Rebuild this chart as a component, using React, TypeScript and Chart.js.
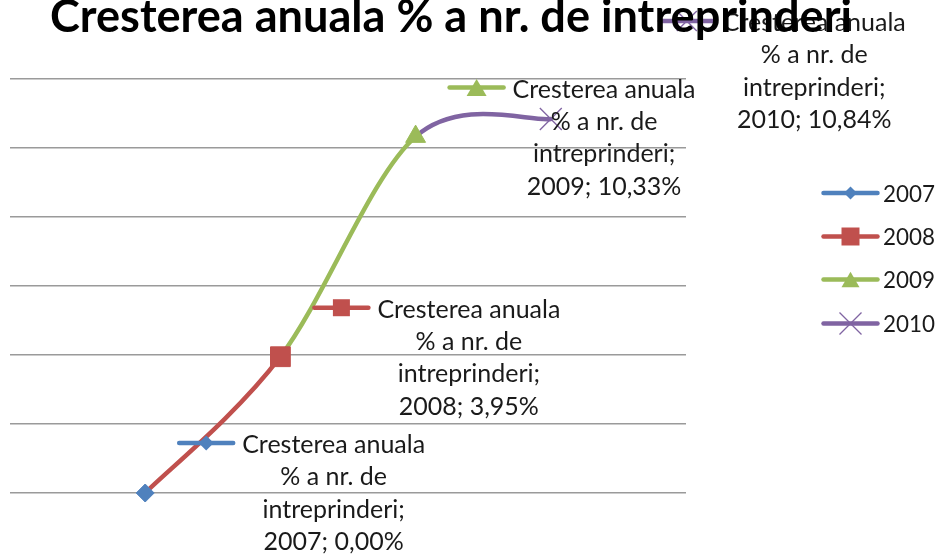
import React, { useEffect, useRef } from 'react';
import { Chart, registerables } from 'chart.js';

Chart.register(...registerables);

// ---- data ----
const TITLE = 'Cresterea anuala % a nr. de intreprinderi';
const SERIES_NAME_LINES = ['Cresterea anuala', '% a nr. de', 'intreprinderi;'];
const YEARS = [2007, 2008, 2009, 2010];
const VALUES = [0.0, 3.95, 10.33, 10.84];
const VALUE_LABELS = ['0,00%', '3,95%', '10,33%', '10,84%'];
const Y_MIN = 0;
const Y_MAX = 12;
const Y_STEP = 2;

// ---- styles ----
const COLORS = ['#4F81BD', '#C0504D', '#9BBB59', '#8064A2'];
const POINT_STYLES = ['rectRot', 'rect', 'triangle', 'crossRot'];
const POINT_RADII = [9, 14, 11.5, 15.5];
const FONT = 'Lato, "Noto Sans", sans-serif';
// label placement relative to its point: start of first line (dx) and its baseline (dy)
const LABEL_OFFSETS = [
  { dx: 97, dy: -40 },
  { dx: 97, dy: -39 },
  { dx: 97, dy: -39 },
  { dx: 172, dy: -88 },
];

function drawMarker(ctx: CanvasRenderingContext2D, style: string, x: number, y: number, h: number, color: string) {
  ctx.save();
  ctx.fillStyle = color;
  ctx.strokeStyle = color;
  ctx.lineWidth = 1;
  ctx.beginPath();
  if (style === 'rectRot') {
    ctx.moveTo(x, y - h);
    ctx.lineTo(x + h, y);
    ctx.lineTo(x, y + h);
    ctx.lineTo(x - h, y);
    ctx.closePath();
    ctx.fill();
  } else if (style === 'rect') {
    ctx.rect(x - h, y - h, 2 * h, 2 * h);
    ctx.fill();
  } else if (style === 'triangle') {
    const hh = h * 0.85;
    ctx.moveTo(x, y - hh);
    ctx.lineTo(x + h, y + hh);
    ctx.lineTo(x - h, y + hh);
    ctx.closePath();
    ctx.fill();
  } else {
    ctx.lineWidth = 1.3;
    ctx.moveTo(x - h, y - h);
    ctx.lineTo(x + h, y + h);
    ctx.moveTo(x + h, y - h);
    ctx.lineTo(x - h, y + h);
    ctx.stroke();
  }
  ctx.restore();
}

function drawKey(ctx: CanvasRenderingContext2D, i: number, cx: number, cy: number, sizes: number[]) {
  ctx.save();
  ctx.strokeStyle = COLORS[i];
  ctx.lineWidth = 4.5;
  ctx.lineCap = 'round';
  ctx.beginPath();
  ctx.moveTo(cx - 27, cy);
  ctx.lineTo(cx + 27, cy);
  ctx.stroke();
  ctx.restore();
  drawMarker(ctx, POINT_STYLES[i], cx, cy, sizes[i], COLORS[i]);
}

function fitSize(ctx: CanvasRenderingContext2D, text: string, weight: string, target: number) {
  ctx.font = `${weight} 100px ${FONT}`;
  const w = ctx.measureText(text).width;
  return (100 * target) / w;
}

const overlayPlugin = {
  id: 'overlay',
  beforeDatasetsDraw(chart: any) {
    // Excel-style smoothing: uniform Catmull-Rom control points (1/6 of neighbour span)
    const meta = chart.getDatasetMeta(0);
    const pts = meta.data;
    const n = pts.length;
    for (let i = 0; i < n; i++) {
      const p = pts[i];
      const prev = pts[Math.max(0, i - 1)];
      const next = pts[Math.min(n - 1, i + 1)];
      const dx = (next.x - prev.x) / 6;
      const dy = (next.y - prev.y) / 6;
      p.cp1x = p.x - dx;
      p.cp1y = p.y - dy;
      p.cp2x = p.x + dx;
      p.cp2y = p.y + dy;
    }
    const line = meta.dataset;
    if (line) {
      line._pointsUpdated = true;
      line._path = undefined;
    }
  },
  afterDatasetsDraw(chart: any) {
    const ctx: CanvasRenderingContext2D = chart.ctx;
    const meta = chart.getDatasetMeta(0);
    const labelSize = fitSize(ctx, SERIES_NAME_LINES[0], 'normal', 183);
    const lineGap = 32.3;
    meta.data.forEach((pt: any, i: number) => {
      const off = LABEL_OFFSETS[i];
      const startX = pt.x + off.dx;
      const base = pt.y + off.dy;
      ctx.save();
      ctx.font = `normal ${labelSize}px ${FONT}`;
      const w0 = ctx.measureText(SERIES_NAME_LINES[0]).width;
      const cx = startX + w0 / 2;
      const lines = [...SERIES_NAME_LINES, `${YEARS[i]}; ${VALUE_LABELS[i]}`];
      ctx.fillStyle = '#1a1a1a';
      ctx.textAlign = 'center';
      ctx.textBaseline = 'alphabetic';
      lines.forEach((t, k) => ctx.fillText(t, cx, base + k * lineGap));
      ctx.restore();
      drawKey(ctx, i, startX - 36, base - 10, [7.5, 8.5, 10, 10]);
    });
  },
  afterDraw(chart: any) {
    const ctx: CanvasRenderingContext2D = chart.ctx;
    // legend
    const legSize = fitSize(ctx, '2007', 'normal', 52);
    const legY = [193, 236.5, 279.5, 323.5];
    YEARS.forEach((yr, i) => {
      drawKey(ctx, i, 850.5, legY[i], [6.5, 9, 9, 11]);
      ctx.save();
      ctx.font = `normal ${legSize}px ${FONT}`;
      ctx.fillStyle = '#1a1a1a';
      ctx.textAlign = 'left';
      ctx.textBaseline = 'alphabetic';
      ctx.fillText(String(yr), 883, legY[i] + 8.5);
      ctx.restore();
    });
    // title
    const tSize = fitSize(ctx, TITLE, 'bold', 802);
    ctx.save();
    ctx.font = `bold ${tSize}px ${FONT}`;
    ctx.fillStyle = '#000000';
    ctx.textAlign = 'center';
    ctx.textBaseline = 'alphabetic';
    ctx.fillText(TITLE, 451, 32);
    ctx.restore();
  },
};

export default function App() {
  const ref = useRef<HTMLCanvasElement | null>(null);
  useEffect(() => {
    document.body.style.margin = '0';
    const canvas = ref.current;
    if (!canvas) return;
    const chart = new Chart(canvas, {
      type: 'line',
      data: {
        datasets: [
          {
            label: SERIES_NAME_LINES.join(' '),
            data: YEARS.map((y, i) => ({ x: y, y: VALUES[i] })),
            borderWidth: 4.5,
            borderCapStyle: 'round',
            tension: 0.4,
            clip: false,
            borderColor: COLORS[1],
            segment: {
              borderColor: (c: any) => COLORS[c.p1DataIndex],
            },
            pointStyle: POINT_STYLES as any,
            pointRadius: POINT_RADII,
            pointBackgroundColor: COLORS,
            pointBorderColor: COLORS,
            pointBorderWidth: [1, 1, 1, 1.3],
            fill: false,
          } as any,
        ],
      },
      options: {
        animation: false,
        responsive: false,
        devicePixelRatio: 1,
        layout: { autoPadding: false, padding: { top: 79, bottom: 61, left: 10, right: 255 } },
        plugins: {
          legend: { display: false },
          title: { display: false },
          tooltip: { enabled: false },
        },
        scales: {
          x: { type: 'linear', min: 2006, max: 2011, display: false },
          y: {
            min: Y_MIN,
            max: Y_MAX,
            ticks: { stepSize: Y_STEP, display: false },
            grid: { color: '#9a9a9a', lineWidth: 1.5, drawTicks: false },
            border: { display: false },
            afterFit: (s: any) => {
              s.width = 0;
            },
          },
        },
      },
      plugins: [overlayPlugin],
    });
    return () => chart.destroy();
  }, []);
  return (
    <div style={{ position: 'absolute', left: 0, top: 0, width: 941, height: 554, background: '#fff' }}>
      <canvas ref={ref} width={941} height={554} />
    </div>
  );
}
